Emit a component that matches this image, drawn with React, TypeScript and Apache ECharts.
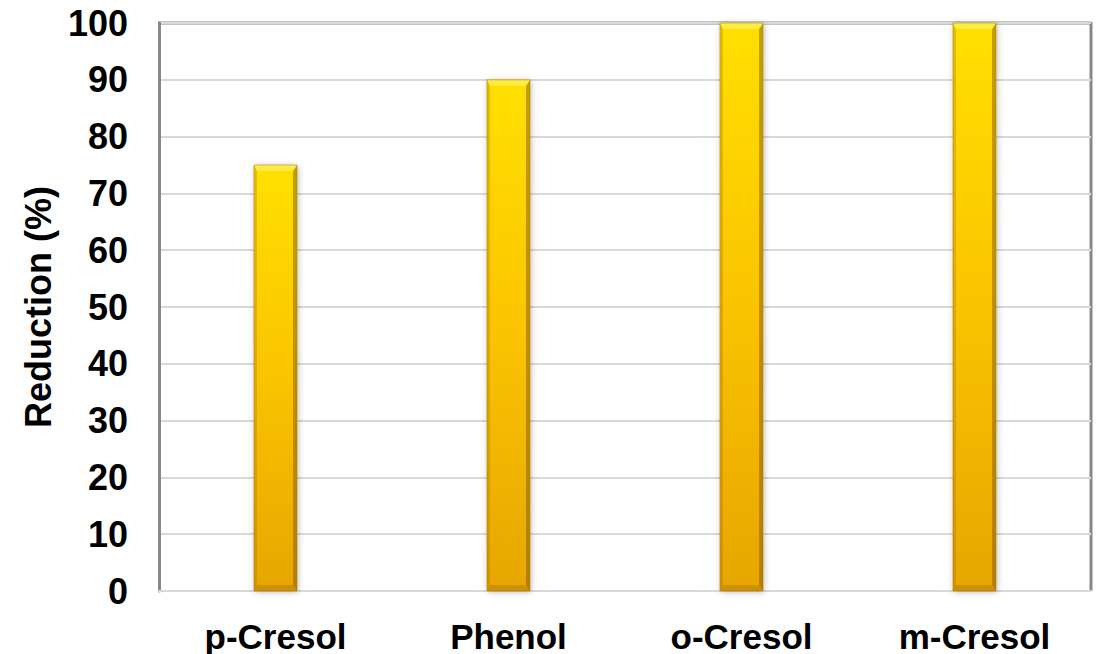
import React, { useEffect, useRef } from "react";
import * as echarts from "echarts";

const categories = ["p-Cresol", "Phenol", "o-Cresol", "m-Cresol"];
const reduction = [75, 90, 100, 100];
const yTicks = [0, 10, 20, 30, 40, 50, 60, 70, 80, 90, 100];

const FONT = "'Liberation Sans', Arial, Helvetica, sans-serif";

export default function App() {
  const ref = useRef<HTMLDivElement>(null);

  useEffect(() => {
    if (!ref.current) return;
    const chart = echarts.init(ref.current, null, { renderer: "svg" });

    const bevel = 6;

    const renderItem = (params: any, api: any) => {
      const idx = api.value(0);
      const val = api.value(1);
      const top = api.coord([idx, val]);
      const base = api.coord([idx, 0]);
      const w = api.size([1, 0])[0] * 0.185;
      const x0 = top[0] - w / 2;
      const x1 = top[0] + w / 2;
      const y0 = top[1];
      const y1 = base[1];
      const b = Math.min(bevel, (y1 - y0) / 2);
      const body = new echarts.graphic.LinearGradient(0, 0, 0, 1, [
        { offset: 0, color: "#FFE000" },
        { offset: 0.5, color: "#FBC300" },
        { offset: 1, color: "#E6A600" },
      ]);
      return {
        type: "group",
        children: [
          {
            type: "rect",
            shape: { x: x0, y: y0, width: w, height: y1 - y0 },
            style: {
              fill: body,
              shadowBlur: 6,
              shadowColor: "rgba(0,0,0,0.28)",
              shadowOffsetX: 1,
              shadowOffsetY: 1,
            },
          },
          // left face
          {
            type: "polygon",
            shape: { points: [[x0, y0], [x0 + 3, y0 + b], [x0 + 3, y1 - b], [x0, y1]] },
            style: { fill: "rgba(150,100,0,0.28)" },
          },
          // right face
          {
            type: "polygon",
            shape: { points: [[x1, y0], [x1 - 4, y0 + b], [x1 - 4, y1 - b], [x1, y1]] },
            style: { fill: "rgba(120,80,0,0.45)" },
          },
          // top face
          {
            type: "polygon",
            shape: { points: [[x0, y0], [x1, y0], [x1 - 4, y0 + b], [x0 + 3, y0 + b]] },
            style: { fill: "rgba(255,245,120,0.55)" },
          },
          // bottom face
          {
            type: "polygon",
            shape: { points: [[x0, y1], [x1, y1], [x1 - 4, y1 - b], [x0 + 3, y1 - b]] },
            style: { fill: "rgba(160,100,0,0.35)" },
          },
          {
            type: "rect",
            shape: { x: x0, y: y0, width: w, height: y1 - y0 },
            style: { fill: "none", stroke: "rgba(170,120,0,0.6)", lineWidth: 0.8 },
          },
        ],
      };
    };

    chart.setOption({
      animation: false,
      backgroundColor: "#ffffff",
      grid: { left: 159, top: 23, right: 6, bottom: 63, containLabel: false },
      xAxis: {
        type: "category",
        data: categories,
        axisLine: { show: true, lineStyle: { color: "#d9d9d9", width: 2 } },
        axisTick: { show: false },
        axisLabel: {
          color: "#000",
          fontFamily: FONT,
          fontWeight: "bold",
          fontSize: 35,
          lineHeight: 30,
          margin: 30,
        },
      },
      yAxis: [
        {
          type: "value",
          min: yTicks[0],
          max: yTicks[yTicks.length - 1],
          interval: 10,
          name: "Reduction (%)",
          nameLocation: "middle",
          nameGap: 103,
          nameTextStyle: {
            color: "#000",
            fontFamily: FONT,
            fontWeight: "bold",
            fontSize: 36,
          },
          axisLine: { show: true, lineStyle: { color: "#888888", width: 3 } },
          axisTick: { show: false },
          splitLine: { lineStyle: { color: "#d9d9d9", width: 2 } },
          axisLabel: {
            color: "#000",
            fontFamily: FONT,
            fontWeight: "bold",
            fontSize: 36,
            margin: 31,
          },
        },
      ],
      graphic: [
        {
          type: "line",
          shape: { x1: 158, y1: 23, x2: 1091, y2: 23 },
          style: { stroke: "#888888", lineWidth: 3 },
          z: 0,
        },
        {
          type: "line",
          shape: { x1: 1091, y1: 22, x2: 1091, y2: 591 },
          style: { stroke: "#888888", lineWidth: 3 },
          z: 0,
        },
      ],
      series: [
        {
          type: "custom",
          renderItem,
          data: reduction.map((v, i) => [i, v]),
          encode: { x: 0, y: 1 },
          z: 5,
        },
      ],
    });

    return () => chart.dispose();
  }, []);

  return (
    <div
      ref={ref}
      style={{ position: "fixed", left: 0, top: 0, width: 1097, height: 654 }}
    />
  );
}
